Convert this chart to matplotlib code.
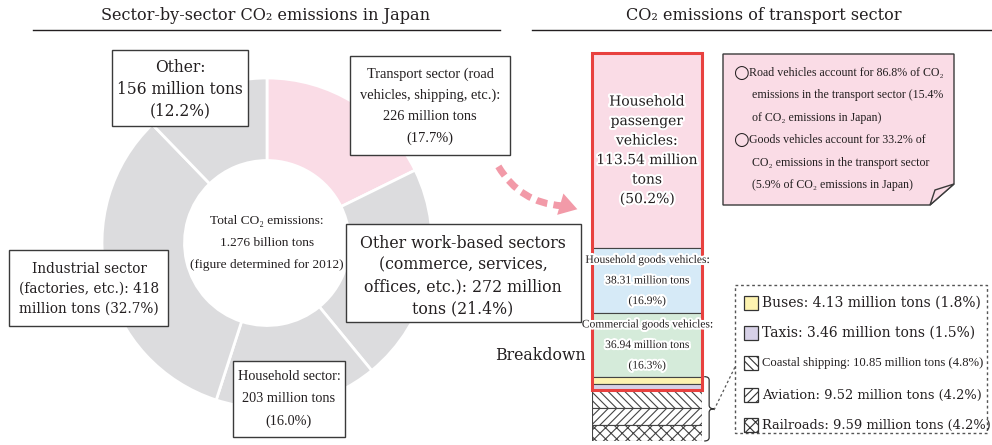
import matplotlib
matplotlib.use("Agg")
import matplotlib.pyplot as plt
import numpy as np
from matplotlib.patches import Rectangle, Polygon, FancyArrowPatch, PathPatch
from matplotlib.path import Path
from matplotlib import patheffects as pe
import matplotlib.transforms as mtrans

# --- data -------------------------------------------------------------
sectors = ["Transport sector", "Other work-based sectors", "Household sector",
           "Industrial sector", "Other"]
sector_mt = [226, 272, 203, 418, 156]          # million tons
sector_pct = [17.7, 21.4, 16.0, 32.7, 12.2]
total_bt = 1.276

modes = ["Household passenger vehicles", "Household goods vehicles",
         "Commercial goods vehicles", "Buses", "Taxis", "Coastal shipping",
         "Aviation", "Railroads"]
mode_mt = [113.54, 38.31, 36.94, 4.13, 3.46, 10.85, 9.52, 9.59]
mode_pct = [50.2, 16.9, 16.3, 1.8, 1.5, 4.8, 4.2, 4.2]

# --- styles -----------------------------------------------------------
INK = "#231f20"
EDGE = "#3a3a3a"
PINK = "#fadce6"
GREY = "#dcdcde"
sector_colors = [PINK, GREY, GREY, GREY, GREY]
mode_colors = [PINK, "#d6eaf7", "#d5ebda", "#fdf3b0", "#d7d1e7", "white", "white", "white"]
mode_hatch = [None, None, None, None, None, "\\\\\\\\", "////", "xxx"]

SERIF = ["DejaVu Serif"]
NARROW = ["Liberation Serif", "DejaVu Serif"]
plt.rcParams["hatch.linewidth"] = 0.8

W, H = 992, 445
fig = plt.figure(figsize=(W / 100, H / 100), dpi=100)


def px_axes(x0, y0, x1, y1):
    return fig.add_axes([x0 / W, 1 - y1 / H, (x1 - x0) / W, (y1 - y0) / H])


# --- donut ------------------------------------------------------------
ax_pie = px_axes(102, 78, 432, 408)
ax_pie.pie(sector_mt, startangle=90, counterclock=False, colors=sector_colors,
           wedgeprops=dict(width=0.5, edgecolor="white", linewidth=2))
ax_pie.set_xlim(-1, 1)
ax_pie.set_ylim(-1, 1)
ax_pie.text(0, 0, "Total CO\u2082 emissions:\n%.3f billion tons\n(figure determined for 2012)" % total_bt,
            ha="center", va="center", linespacing=2.1, family=NARROW, size=9.6, color=INK)

# --- stacked bar ------------------------------------------------------
total = sum(mode_mt)
cum = np.concatenate([[0], np.cumsum(mode_mt)])
ax_bar = px_axes(592, 53, 702, 441)
for i in range(len(modes)):
    ax_bar.bar(0, mode_mt[i], bottom=cum[i], width=1, color=mode_colors[i],
               hatch=mode_hatch[i], edgecolor="#444444", linewidth=0.8)
ax_bar.set_xlim(-0.5, 0.5)
ax_bar.set_ylim(total, 0)
ax_bar.axis("off")
ax_bar.add_patch(Rectangle((-0.5, 0), 1, cum[5], fill=False, ec="#e8413f", lw=2.2,
                           clip_on=False, zorder=5))

halo = [pe.withStroke(linewidth=3, foreground="white")]
ax_bar.text(0, (cum[0] + cum[1]) / 2,
            "Household\npassenger\nvehicles:\n%.2f million\ntons\n(%.1f%%)" % (mode_mt[0], mode_pct[0]),
            ha="center", va="center", linespacing=1.5, path_effects=halo,
            family=SERIF, size=10, color=INK, zorder=6)
ax_bar.text(0, (cum[1] + cum[2]) / 2,
            "Household goods vehicles:\n%.2f million tons\n(%.1f%%)" % (mode_mt[1], mode_pct[1]),
            ha="center", va="center", linespacing=1.95, path_effects=halo,
            family=NARROW, size=8.3, color=INK, zorder=6)
ax_bar.text(0, (cum[2] + cum[3]) / 2,
            "Commercial goods vehicles:\n%.2f million tons\n(%.1f%%)" % (mode_mt[2], mode_pct[2]),
            ha="center", va="center", linespacing=1.95, path_effects=halo,
            family=NARROW, size=8.3, color=INK, zorder=6)

# curly brace next to the small segments
bx = mtrans.blended_transform_factory(ax_bar.transAxes, ax_bar.transData)
y0, y1 = cum[3], cum[-1]
ym = (y0 + y1) / 2
x, w, d = 1.02, 0.09, 2.0
verts = [(x, y0), (x + w / 2, y0), (x + w / 2, y0 + d), (x + w / 2, ym - d),
         (x + w / 2, ym), (x + w, ym), (x + w / 2, ym), (x + w / 2, ym + d),
         (x + w / 2, y1 - d), (x + w / 2, y1), (x, y1)]
codes = [Path.MOVETO, Path.CURVE3, Path.CURVE3, Path.LINETO, Path.CURVE3, Path.CURVE3,
         Path.CURVE3, Path.CURVE3, Path.LINETO, Path.CURVE3, Path.CURVE3]
ax_bar.add_patch(PathPatch(Path(verts, codes), transform=bx, fill=False, ec="#333333",
                           lw=0.9, clip_on=False))

# --- overlay (titles, boxes, notes) -----------------------------------
ov = fig.add_axes([0, 0, 1, 1])
ov.set_xlim(0, W)
ov.set_ylim(H, 0)
ov.axis("off")

ov.text(266, 15, "Sector-by-sector CO\u2082 emissions in Japan", ha="center", va="center",
        family=SERIF, size=11.6, color=INK)
ov.text(764, 15, "CO\u2082 emissions of transport sector", ha="center", va="center",
        family=SERIF, size=11.6, color=INK)
ov.plot([33, 500], [30, 30], color=INK, lw=1)
ov.plot([532, 992], [30, 30], color=INK, lw=1)


def box(x0, y0, x1, y1, fc="white"):
    ov.add_patch(Rectangle((x0, y0), x1 - x0, y1 - y0, fc=fc, ec=EDGE, lw=1))


box(112, 50, 248, 126)
ov.text(180, 89, "Other:\n%d million tons\n(%.1f%%)" % (sector_mt[4], sector_pct[4]),
        ha="center", va="center", linespacing=1.35, family=SERIF, size=11.2, color=INK)

box(350, 56, 510, 155)
ov.text(430, 106, "Transport sector (road\nvehicles, shipping, etc.):\n%d million tons\n(%.1f%%)"
        % (sector_mt[0], sector_pct[0]), ha="center", va="center", linespacing=1.8,
        family=NARROW, size=10.4, color=INK)

box(346, 224, 581, 322)
ov.text(463, 276, "Other work-based sectors\n(commerce, services,\noffices, etc.): %d million\ntons (%.1f%%)"
        % (sector_mt[1], sector_pct[1]), ha="center", va="center", linespacing=1.36,
        family=SERIF, size=11.3, color=INK)

box(9, 250, 168, 326)
ov.text(89, 289, "Industrial sector\n(factories, etc.): %d\nmillion tons (%.1f%%)"
        % (sector_mt[3], sector_pct[3]), ha="center", va="center", linespacing=1.55,
        family=SERIF, size=9.8, color=INK)

box(233, 361, 345, 437)
ov.text(289, 399, "Household sector:\n%d million tons\n(%.1f%%)" % (sector_mt[2], sector_pct[2]),
        ha="center", va="center", linespacing=1.9, family=NARROW, size=10.3, color=INK)

ov.text(586, 355, "Breakdown", ha="right", va="center", family=SERIF, size=11.3, color=INK)

# dashed pink arrow
ARROW = "#f29aa8"
shaft = FancyArrowPatch((497, 164), (565, 206), connectionstyle="arc3,rad=0.28",
                        arrowstyle="-", color=ARROW, lw=5, linestyle=(0, (1.6, 0.9)))
shaft.set_capstyle("butt")
ov.add_patch(shaft)
ov.annotate("", xy=(580, 210), xytext=(563, 205),
            arrowprops=dict(arrowstyle="-|>,head_length=0.8,head_width=0.5", color=ARROW,
                            lw=0, mutation_scale=16))

# note box with folded corner
note = [(723, 54), (954, 54), (954, 184), (930, 205), (723, 205)]
ov.add_patch(Polygon(note, closed=True, fc=PINK, ec=EDGE, lw=1))
ov.add_patch(Polygon([(930, 205), (935, 190), (954, 184)], closed=True, fc=PINK, ec=EDGE, lw=1))
note_lines = [("\u25cb", "Road vehicles account for 86.8% of CO\u2082"),
              ("", "emissions in the transport sector (15.4%"),
              ("", "of CO\u2082 emissions in Japan)"),
              ("\u25cb", "Goods vehicles account for 33.2% of"),
              ("", "CO\u2082 emissions in the transport sector"),
              ("", "(5.9% of CO\u2082 emissions in Japan)")]
for k, (bullet, line) in enumerate(note_lines):
    yy = 73 + k * 22.4
    if bullet:
        ov.text(741, yy, bullet, ha="center", va="center", family=["DejaVu Sans"], size=13, color=INK)
        ov.text(749, yy, line, ha="left", va="center", family=NARROW, size=8.6, color=INK)
    else:
        ov.text(752, yy, line, ha="left", va="center", family=NARROW, size=8.6, color=INK)

# legend of small segments
ov.add_patch(Rectangle((735, 285), 252, 148, fill=False, ec="#555555", lw=1, linestyle=(0, (2, 2))))
ov.plot([714, 735], [410, 367], color="#555555", lw=0.9, linestyle=(0, (2, 2)))
leg_y = [303, 333, 363, 395, 425]
leg_font = [(SERIF, 10), (SERIF, 10), (NARROW, 9.1), (SERIF, 9.4), (SERIF, 9.4)]
for k, i in enumerate(range(3, 8)):
    ov.add_patch(Rectangle((744, leg_y[k] - 7), 14, 14, fc=mode_colors[i], hatch=mode_hatch[i],
                           ec="#333333", lw=0.9))
    label = "%s: %.2f million tons (%.1f%%)" % (modes[i], mode_mt[i], mode_pct[i])
    fam, sz = leg_font[k]
    ov.text(762, leg_y[k], label, ha="left", va="center", family=fam, size=sz, color=INK)

fig.savefig("out.png", dpi=100)
